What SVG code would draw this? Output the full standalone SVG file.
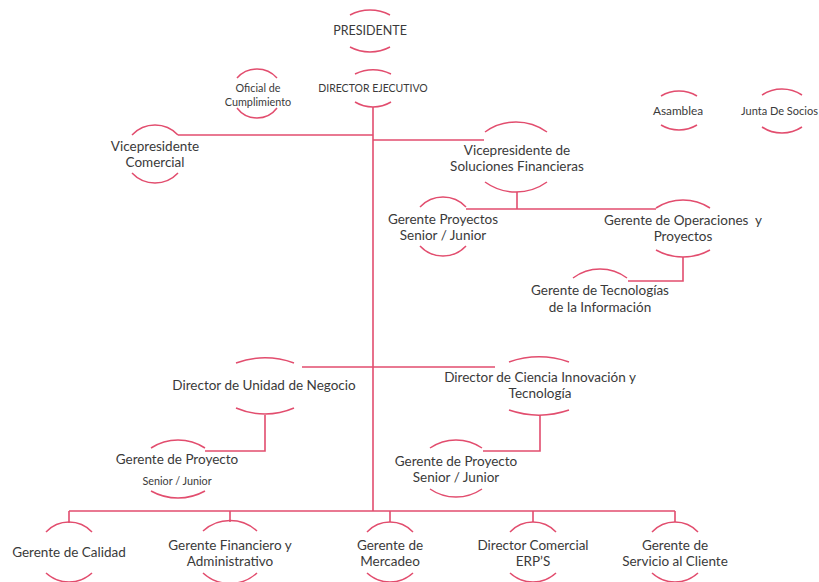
<svg xmlns="http://www.w3.org/2000/svg" width="819" height="582" viewBox="0 0 819 582">
<style>
  .arc { fill: none; stroke: #E24D6E; stroke-width: 1.5; }
  .con { fill: none; stroke: #E24D6E; stroke-width: 1.6; }
  text { font-family: Lato, "Liberation Sans", sans-serif; fill: #3a3a3a; text-anchor: middle; }
  .t { font-size: 13.5px; }
  .p { font-size: 12.5px; }
  .d { font-size: 10.5px; }
  .s { font-size: 11.8px; }
  .xs { font-size: 10.8px; }
</style>
<rect width="819" height="582" fill="#ffffff"/>
<g id="connectors">
  <path class="con" d="M373 107 V511"/>
  <path class="con" d="M178 135 H373"/>
  <path class="con" d="M373 140 H484"/>
  <path class="con" d="M517 192 V209"/>
  <path class="con" d="M466 209 H656"/>
  <path class="con" d="M683 257 V281 H628"/>
  <path class="con" d="M302 367 H495"/>
  <path class="con" d="M265 415 V451 H205"/>
  <path class="con" d="M540 415 V451 H483"/>
  <path class="con" d="M69 511 H675"/>
  <path class="con" d="M69 511 V523 M230 511 V522 M390 511 V522 M533 511 V522 M675 511 V522"/>
</g>
<g id="presidente">
  <path class="arc" d="M350 15 A42.5 42.5 0 0 1 390 15"/>
  <path class="arc" d="M350 47 A42.5 42.5 0 0 0 390 47"/>
  <text class="p" x="370" y="34.5">PRESIDENTE</text>
</g>
<g id="director-ejecutivo">
  <path class="arc" d="M355 74 A42.5 42.5 0 0 1 391 74"/>
  <path class="arc" d="M355 102 A35 35 0 0 0 391 102"/>
  <text class="d" x="373" y="92">DIRECTOR EJECUTIVO</text>
</g>
<g id="oficial-cumplimiento">
  <path class="arc" d="M237 78 A26.7 26.7 0 0 1 277 78"/>
  <path class="arc" d="M237 108 A25 25 0 0 0 277 108"/>
  <text class="xs" x="258" y="91.5">Oficial de</text>
  <text class="xs" x="258" y="105.5">Cumplimiento</text>
</g>
<g id="vp-comercial">
  <path class="arc" d="M132 135 A31.5 31.5 0 0 1 178 135"/>
  <path class="arc" d="M132 173 A31.5 31.5 0 0 0 178 173"/>
  <text class="t" x="155" y="150.5">Vicepresidente</text>
  <text class="t" x="155" y="166.5">Comercial</text>
</g>
<g id="vp-soluciones">
  <path class="arc" d="M485 132 A53 53 0 0 1 547 132"/>
  <path class="arc" d="M485 182 A53 53 0 0 0 547 182"/>
  <text class="t" x="517" y="154.5">Vicepresidente de</text>
  <text class="t" x="517" y="170.5">Soluciones Financieras</text>
</g>
<g id="gte-proyectos-sj">
  <path class="arc" d="M420 207 A31.5 31.5 0 0 1 466 207"/>
  <path class="arc" d="M420 246 A31.5 31.5 0 0 0 466 246"/>
  <text class="t" x="443" y="223.5">Gerente Proyectos</text>
  <text class="t" x="443" y="239.5">Senior / Junior</text>
</g>
<g id="gte-operaciones">
  <path class="arc" d="M656 208 A49.6 49.6 0 0 1 710 208"/>
  <path class="arc" d="M656 250 A55.6 55.6 0 0 0 710 250"/>
  <text class="t" x="683" y="224.5" xml:space="preserve">Gerente de Operaciones  y</text>
  <text class="t" x="683" y="240.5">Proyectos</text>
</g>
<g id="gte-tecnologias">
  <path class="arc" d="M573 278 A45 45 0 0 1 627 278"/>
  <text class="t" x="600" y="294.5">Gerente de Tecnologías</text>
  <text class="t" x="600" y="311.5">de la Información</text>
</g>
<g id="asamblea">
  <path class="arc" d="M661 96 A35 35 0 0 1 697 96"/>
  <path class="arc" d="M661 125 A35 35 0 0 0 697 125"/>
  <text class="s" x="678" y="115">Asamblea</text>
</g>
<g id="junta-socios">
  <path class="arc" d="M762 95 A36.3 36.3 0 0 1 802 95"/>
  <path class="arc" d="M762 127 A36.3 36.3 0 0 0 802 127"/>
  <text x="741" y="115" style="text-anchor:start;font-size:11px">Junta De Socios</text>
</g>
<g id="dir-unidad-negocio">
  <path class="arc" d="M236 363 A86.6 86.6 0 0 1 294 363"/>
  <path class="arc" d="M236 408 A73 73 0 0 0 294 408"/>
  <text class="t" x="264" y="389.5">Director de Unidad de Negocio</text>
</g>
<g id="gte-proyecto-izq">
  <path class="arc" d="M151 448 A49.6 49.6 0 0 1 205 448"/>
  <path class="arc" d="M151 491 A55.6 55.6 0 0 0 205 491"/>
  <text class="t" x="177" y="463.5">Gerente de Proyecto</text>
  <text class="xs" x="177" y="484.5">Senior / Junior</text>
</g>
<g id="dir-ciencia">
  <path class="arc" d="M509 362 A92.5 92.5 0 0 1 569 362"/>
  <path class="arc" d="M509 410 A92.5 92.5 0 0 0 569 410"/>
  <text class="t" x="540" y="381.5">Director de Ciencia Innovación y</text>
  <text class="t" x="540" y="397.5">Tecnología</text>
</g>
<g id="gte-proyecto-der">
  <path class="arc" d="M430 448 A46 46 0 0 1 482 448"/>
  <path class="arc" d="M430 489 A46 46 0 0 0 482 489"/>
  <text class="t" x="456" y="465.5">Gerente de Proyecto</text>
  <text class="t" x="456" y="481.5">Senior / Junior</text>
</g>
<g id="gte-calidad">
  <path class="arc" d="M46 532 A31.5 31.5 0 0 1 92 532"/>
  <path class="arc" d="M46 573 A33.9 33.9 0 0 0 92 573"/>
  <text class="t" x="69" y="556.5">Gerente de Calidad</text>
</g>
<g id="gte-financiero">
  <path class="arc" d="M203 531 A40 40 0 0 1 257 531"/>
  <path class="arc" d="M203 573 A40 40 0 0 0 257 573"/>
  <text class="t" x="230" y="549.5">Gerente Financiero y</text>
  <text class="t" x="230" y="565.5">Administrativo</text>
</g>
<g id="gte-mercadeo">
  <path class="arc" d="M367 532 A31.5 31.5 0 0 1 413 532"/>
  <path class="arc" d="M367 573 A33.9 33.9 0 0 0 413 573"/>
  <text class="t" x="390" y="549.5">Gerente de</text>
  <text class="t" x="390" y="565.5">Mercadeo</text>
</g>
<g id="dir-comercial-erps">
  <path class="arc" d="M510 532 A31.5 31.5 0 0 1 556 532"/>
  <path class="arc" d="M510 573 A33.9 33.9 0 0 0 556 573"/>
  <text class="t" x="533" y="549.5">Director Comercial</text>
  <text class="t" x="533" y="565.5">ERP’S</text>
</g>
<g id="gte-servicio-cliente">
  <path class="arc" d="M652 532 A31.5 31.5 0 0 1 698 532"/>
  <path class="arc" d="M652 573 A33.9 33.9 0 0 0 698 573"/>
  <text class="t" x="675" y="549.5">Gerente de</text>
  <text class="t" x="675" y="565.5">Servicio al Cliente</text>
</g>
</svg>
